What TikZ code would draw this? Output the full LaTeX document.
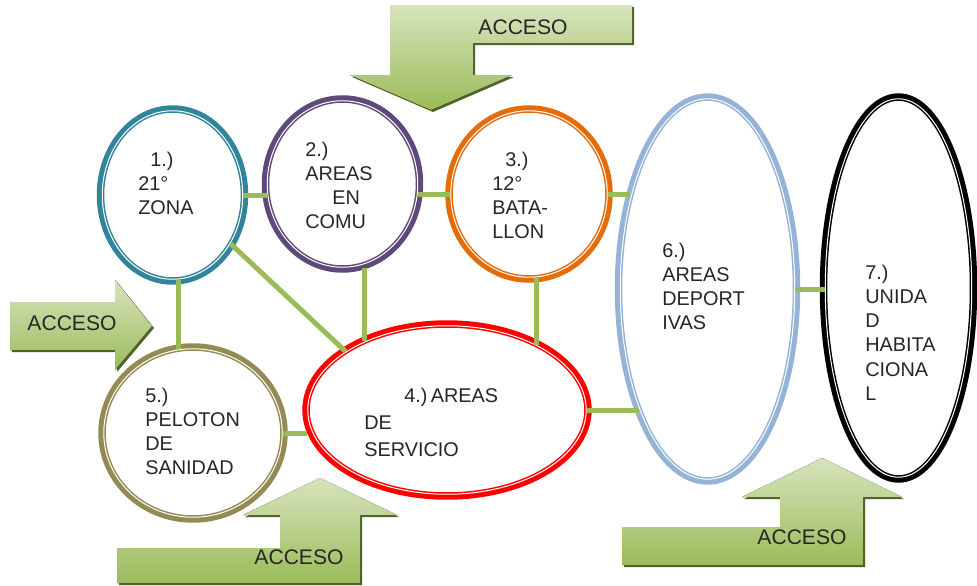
\documentclass[tikz,border=0pt]{standalone}
\usepackage{fontspec}
\setmainfont{Liberation Sans}
\usetikzlibrary{shapes.geometric,shadows}
\definecolor{ringteal}{HTML}{31849B}
\definecolor{ringpurple}{HTML}{5F497A}
\definecolor{ringorange}{HTML}{E46C0A}
\definecolor{ringred}{HTML}{FF0000}
\definecolor{ringolive}{HTML}{948A54}
\definecolor{ringblue}{HTML}{95B3D7}
\definecolor{linkgreen}{HTML}{9BBB59}
\definecolor{acclight}{HTML}{D7E4BD}
\definecolor{accdark}{HTML}{9BBB59}
\definecolor{accshadow}{HTML}{4F6228}

\begin{document}
\begin{tikzpicture}[x=0.02cm, y=-0.02cm]
			\tikzset{ring/.style={ellipse, draw=#1, fill=white, line width=0.03cm, double=white, double distance=0.02cm, inner sep=0pt, preaction={draw=#1, line width=0.22cm}},
				txt/.style={anchor=north west, align=left, inner sep=0pt, text=black!85, font=\fontsize{11.3}{13.7}\selectfont},
				link/.style={draw=linkgreen, line width=0.1cm},
				acceso/.style={top color=acclight, bottom color=accdark, drop shadow={shadow xshift=0.04cm, shadow yshift=-0.04cm, fill=accshadow, opacity=1}},
				accesotxt/.style={inner sep=0pt, text=black!85, font=\fontsize{12}{14}\selectfont}}
			
			\useasboundingbox (0,0) rectangle (977,585);
			
			\node[ring=ringteal, minimum width=2.81cm, minimum height=3.37cm] (a_1) at (172.5,195) {};
			\node[ring=ringpurple, minimum width=3.01cm, minimum height=3.33cm] (a_2) at (342.5,184) {};
			\node[ring=ringorange, minimum width=3.13cm, minimum height=3.33cm] (a_3) at (529,194) {};
			\node[ring=ringred, minimum width=5.57cm, minimum height=3.37cm] (a_4) at (447,410) {};
			\node[ring=ringolive, minimum width=3.57cm, minimum height=3.37cm] (a_5) at (193,433) {};
			\node[ring=ringblue, minimum width=3.49cm, minimum height=7.61cm] (a_6) at (707.5,289) {};
			\node[ring=black, minimum width=2.93cm, minimum height=7.57cm] (a_7) at (898.5,288) {};
			
			\node[txt] (t_1) at (138,152) {\hspace*{0.24cm}1.)\\21°\\ZONA};
			\node[txt] (t_2) at (305,142) {2.)\\AREAS\\\hspace*{0.54cm}EN\\COMU};
			\node[txt] (t_3) at (492,152) {\hspace*{0.26cm}3.)\\12°\\BATA-\\LLON};
			\node[txt, font=\fontsize{11.3}{15.3}\selectfont] (t_4) at (364,388) {\hspace*{0.8cm}4.)\,AREAS\\DE\\SERVICIO};
			\node[txt] (t_5) at (145,388) {5.)\\PELOTON\\DE\\SANIDAD};
			\node[txt] (t_6) at (662,243) {6.)\\AREAS\\DEPORT\\IVAS};
			\node[txt] (t_7) at (865,265) {7.)\\UNIDA\\D\\HABITA\\CIONA\\L};
			
			\draw[link] (a_1.east) -- (a_1.east -| a_2.west);
			\draw[link] (a_3.west) -- (a_3.west -| a_2.east);
			\draw[link] (a_3.east) -- (a_3.east -| a_6.130);
			\draw[link] (a_6.east) -- (a_6.east -| a_7.west);
			\draw[link] (a_1.-40) -- (a_4.150);
			\draw[link] (a_4.140) -- (a_4.140 |- a_2.south);
			\draw[link] (a_4.36) -- (a_4.36 |- a_3.south);
			\draw[link] (a_5.100) -- (a_5.100 |- a_1.south);
			\draw[link] (a_5.east) -- (a_5.east -| a_4.west);
			\draw[link] (a_4.east) -- (a_4.east -| a_6.240);
			
			% accesos
			\fill[acceso] (390,5) -- (632,5) -- (632,43) -- (473,43) -- (473,75) -- (512,75) -- (431,110) -- (350,75) -- (390,75) -- cycle;
			\fill[acceso] (10,302) -- (115,302) -- (115,280) -- (152,326) -- (115,370) -- (115,350) -- (10,350) -- cycle;
			\fill[acceso] (117,583) -- (117,548) -- (280,548) -- (280,515) -- (243,515) -- (320,478) -- (397,515) -- (360,515) -- (360,583) -- cycle;
			\fill[acceso] (622,565) -- (622,527) -- (780,527) -- (780,497) -- (742,497) -- (822,458) -- (902,497) -- (863,497) -- (863,565) -- cycle;
			
			\node[accesotxt] (acc_1) at (523,27) {ACCESO};
			\node[accesotxt] (acc_2) at (72,323) {ACCESO};
			\node[accesotxt] (acc_3) at (299,557) {ACCESO};
			\node[accesotxt] (acc_4) at (802,537) {ACCESO};
			
		\end{tikzpicture}
\end{document}
